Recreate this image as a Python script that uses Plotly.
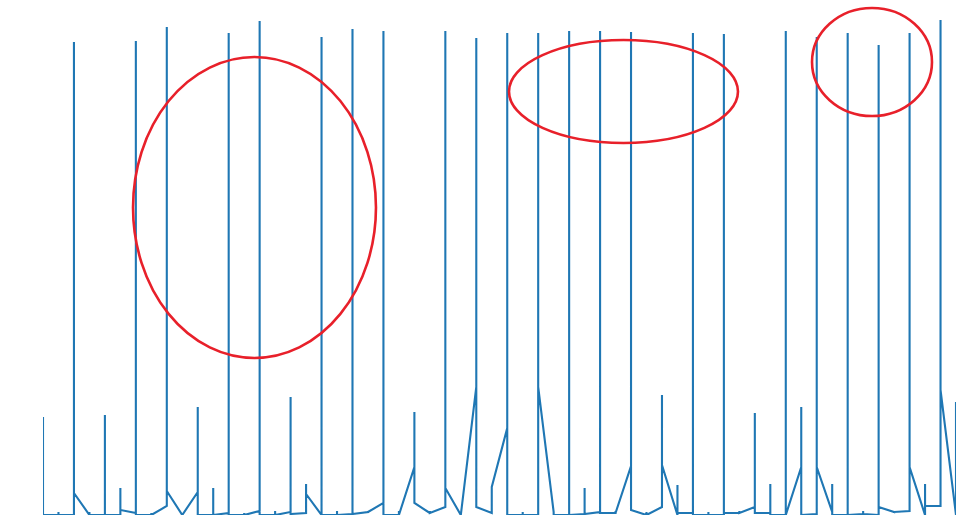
import plotly.graph_objects as go

# half-step sample positions (0, 0.5, ... 29.5)
positions = [i * 0.5 for i in range(60)]

# readings at each position, in the order the trace visits them
readings = [
    [0, 98, 0], [0, 3, 0], [0, 473, 22], [0, 3, 0], [0, 100, 0],
    [0, 27, 5], [2, 474, 0], [0, 2, 0], [9, 488, 24], [0],
    [23, 108, 0], [0, 27, 0], [2, 482, 0], [0, 2, 0], [4, 494, 0],
    [0, 4, 0], [3, 118, 1], [2, 31, 21], [0, 478, 0], [0, 4, 0],
    [1, 486, 1], [3, 4, 3], [12, 484, 0], [0, 4, 0], [48, 103, 12],
    [2, 4, 2], [8, 484, 27], [0], [128, 477, 8], [2, 28, 28],
    [87, 482, 0], [0, 3, 0], [0, 482, 128], [3, 0], [0, 484, 0],
    [1, 27, 1], [3, 484, 2], [2, 4, 2], [49, 483, 5], [0, 3, 0],
    [8, 120, 50], [0, 30, 2], [2, 482, 0], [0, 3, 0], [0, 481, 2],
    [2, 4, 2], [8, 102, 2], [2, 31, 0], [0, 484, 0], [48, 108, 0],
    [1, 478, 48], [3, 31, 0], [0, 482, 0], [1, 4, 1], [0, 470, 8],
    [3, 4, 3], [4, 482, 48], [0, 31, 9], [9, 495, 125], [0, 113],
]

xs, ys = [], []
for p, vals in zip(positions, readings):
    for v in vals:
        xs.append(p)
        ys.append(v)

fig = go.Figure()
fig.add_trace(go.Scatter(
    x=xs, y=ys, mode="lines",
    line=dict(color="#1f77b4", width=2.1),
    hoverinfo="skip", showlegend=False,
))

# highlighted regions (paper coordinates)
ellipses = [
    (0.0986, 0.3647, 0.3172, 0.9253),
    (0.5104, 0.7612, 0.7515, 0.9596),
    (0.8423, 0.9737, 0.8061, 1.0242),
]
for x0, x1, y0, y1 in ellipses:
    fig.add_shape(type="circle", xref="paper", yref="paper",
                  x0=x0, x1=x1, y0=y0, y1=y1,
                  line=dict(color="#e8202a", width=2.6))

fig.update_layout(
    width=974, height=521,
    margin=dict(l=43, r=18, t=20, b=6),
    paper_bgcolor="white", plot_bgcolor="white",
    xaxis=dict(range=[0, 29.5], visible=False, showgrid=False, zeroline=False),
    yaxis=dict(range=[0, 495], visible=False, showgrid=False, zeroline=False),
)

fig.write_html("out.html")
